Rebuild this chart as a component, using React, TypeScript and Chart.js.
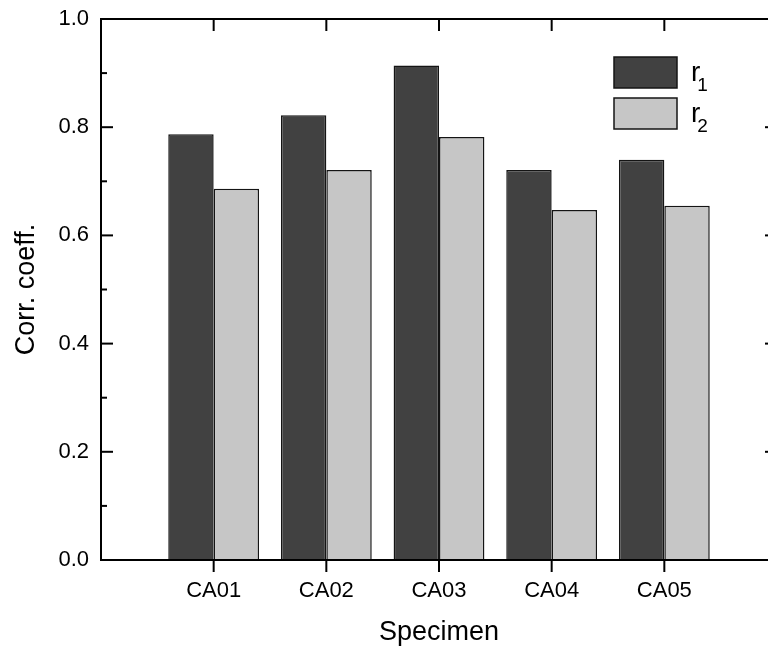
import React, { useEffect, useRef } from 'react';
import { Chart, registerables } from 'chart.js';

Chart.register(...registerables);

const categories = ['CA01', 'CA02', 'CA03', 'CA04', 'CA05'];
const r1Values = [0.787, 0.822, 0.914, 0.721, 0.74];
const r2Values = [0.686, 0.721, 0.782, 0.647, 0.655];
const seriesNames = ['r1', 'r2'];
const yTickValues = [0, 0.2, 0.4, 0.6, 0.8, 1.0];
const xTitle = 'Specimen';
const yTitle = 'Corr. coeff.';

const FONT = "'Liberation Sans', Arial, Helvetica, sans-serif";

const framePlugin = {
  id: 'frame',
  afterDatasetsDraw(chart: any) {
    const { ctx, chartArea: a, scales } = chart;
    const xs = scales.x;
    const ys = scales.y;
    const line = (x1: number, y1: number, x2: number, y2: number) => {
      ctx.beginPath();
      ctx.moveTo(x1, y1);
      ctx.lineTo(x2, y2);
      ctx.stroke();
    };
    ctx.save();
    ctx.strokeStyle = '#000';
    ctx.lineWidth = 2;
    ctx.lineCap = 'butt';
    ctx.strokeRect(a.left, a.top, a.right - a.left, a.bottom - a.top);

    // y ticks (major and minor), inward on left and right
    const ticks: { v: number; major: boolean }[] = [];
    yTickValues.forEach((v, i) => {
      ticks.push({ v, major: true });
      if (i < yTickValues.length - 1) ticks.push({ v: (v + yTickValues[i + 1]) / 2, major: false });
    });
    ticks.forEach(({ v, major }) => {
      const py = ys.getPixelForValue(v);
      const len = major ? 12 : 6;
      line(a.left, py, a.left + len, py);
      line(a.right, py, a.right - len, py);
    });

    // x ticks: bottom outward, top inward
    categories.forEach((_, i) => {
      const px = xs.getPixelForValue(i + 1);
      line(px, a.bottom, px, a.bottom + 12);
      line(px, a.top, px, a.top + 12);
    });

    // legend
    const lx = a.right - 163;
    const ly = a.top + 38;
    chart.data.datasets.forEach((ds: any, i: number) => {
      const top = ly + i * 41;
      ctx.fillStyle = ds.backgroundColor;
      ctx.fillRect(lx, top, 63, 31);
      ctx.lineWidth = 1.5;
      ctx.strokeStyle = '#141414';
      ctx.strokeRect(lx, top, 63, 31);
      const label: string = ds.label;
      const base = label.slice(0, 1);
      const sub = label.slice(1);
      ctx.fillStyle = '#000';
      ctx.textAlign = 'left';
      ctx.textBaseline = 'alphabetic';
      ctx.font = `28px ${FONT}`;
      const bx = lx + 77;
      ctx.fillText(base, bx, top + 24);
      const w = ctx.measureText(base).width;
      ctx.font = `19px ${FONT}`;
      ctx.fillText(sub, bx + w - 3, top + 34);
    });
    ctx.restore();
  },
};

export default function App() {
  const ref = useRef<HTMLCanvasElement>(null);
  useEffect(() => {
    const chart = new Chart(ref.current as HTMLCanvasElement, {
      type: 'bar',
      data: {
        labels: ['', ...categories, ''],
        datasets: [
          {
            label: seriesNames[0],
            data: [null, ...r1Values, null],
            backgroundColor: '#414141',
            borderColor: '#141414',
            borderWidth: 1.5,
            categoryPercentage: 0.806,
            barPercentage: 1,
          },
          {
            label: seriesNames[1],
            data: [null, ...r2Values, null],
            backgroundColor: '#c6c6c6',
            borderColor: '#141414',
            borderWidth: 1.5,
            categoryPercentage: 0.806,
            barPercentage: 1,
          },
        ],
      },
      options: {
        responsive: false,
        animation: false,
        devicePixelRatio: 1,
        layout: { padding: { left: 0, right: 23, top: 19, bottom: 0 } },
        plugins: { legend: { display: false }, tooltip: { enabled: false } },
        scales: {
          x: {
            type: 'category',
            offset: false,
            grid: { display: false, drawTicks: false },
            border: { display: false },
            ticks: {
              color: '#000',
              font: { family: FONT, size: 22 },
              padding: 18,
              maxRotation: 0,
              autoSkip: false,
            },
            title: {
              display: true,
              text: xTitle,
              color: '#000',
              font: { family: FONT, size: 27 },
              padding: { top: 0, bottom: 2 },
            },
            afterFit(s: any) {
              s.height = 91;
              s.paddingLeft = 0;
              s.paddingRight = 0;
            },
          },
          y: {
            min: 0,
            max: 1,
            grid: { display: false, drawTicks: false },
            border: { display: false },
            ticks: {
              color: '#000',
              font: { family: FONT, size: 22 },
              padding: 12,
              callback: (v: any) => Number(v).toFixed(1),
            },
            afterBuildTicks(s: any) {
              s.ticks = yTickValues.map((v) => ({ value: v }));
            },
            title: {
              display: true,
              text: yTitle,
              color: '#000',
              font: { family: FONT, size: 27 },
              padding: { top: 10, bottom: 0 },
            },
            afterFit(s: any) {
              s.width = 101;
              s.paddingTop = 0;
              s.paddingBottom = 0;
            },
          },
        },
      } as any,
      plugins: [framePlugin],
    });
    return () => chart.destroy();
  }, []);
  return (
    <div
      style={{
        position: 'fixed',
        left: 0,
        top: 0,
        width: 768,
        height: 651,
        overflow: 'hidden',
        background: '#fff',
      }}
    >
      <canvas ref={ref} width={800} height={651} style={{ display: 'block', width: 800, height: 651 }} />
    </div>
  );
}
